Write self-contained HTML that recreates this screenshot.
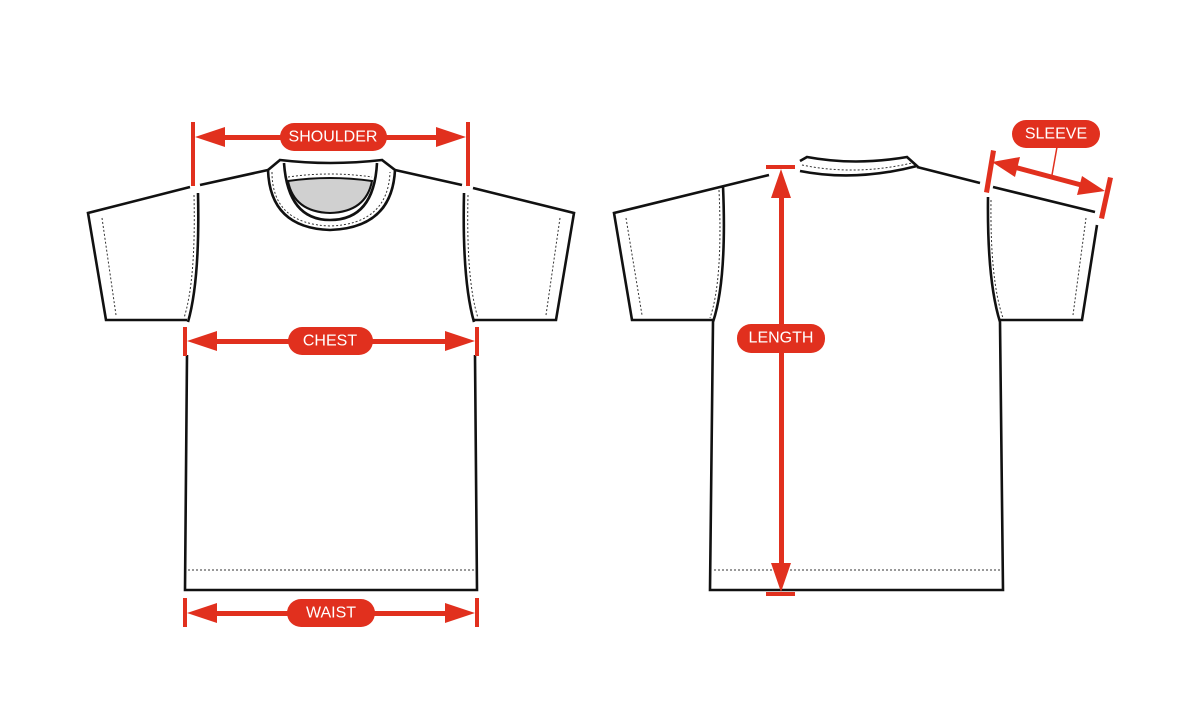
<!DOCTYPE html>
<html><head><style>
html,body{margin:0;padding:0;background:#fff;}
svg{display:block}
text{font-family:"Liberation Sans",sans-serif;font-size:16px;fill:#fff;text-anchor:middle;dominant-baseline:central;}
</style></head><body>
<svg width="1200" height="704" viewBox="0 0 1200 704" xmlns="http://www.w3.org/2000/svg">
<g fill="none" stroke="#111" stroke-width="2.6" stroke-linejoin="miter">
<path d="M268,170 L200,185"/>
<path d="M190,187 L88,213 L106,320 L187,320"/>
<path d="M395,170 L462,185"/>
<path d="M473,188 L574,213 L556,320 L474,320"/>
<path d="M198,193 Q200,280 188,322"/>
<path d="M464,193 Q462,280 474,322"/>
<path d="M187,355 L185,590 L477,590 L475,355"/>
<path d="M268,170 L280,160 Q330,166 382,160 L395,170 Q392,228 330,230 Q270,228 268,170 Z" fill="#fff"/>
<path d="M284,163 Q288,220 330,220 Q374,220 377,163"/>
<path d="M288,181 Q330,175 372,181 Q366,212 330,213 Q294,212 288,181 Z" fill="#d0d0d0" stroke-width="2"/>
<path d="M769,175 L614,213 L632,320 L713,320"/>
<path d="M723,186 Q727,280 713,322 L710,590 L1003,590 L1000,322 Q987,280 988,197"/>
<path d="M999,320 L1082,320 L1097,225"/>
<path d="M993,187 L1095,212"/>
<path d="M917,167 L980,183"/>
<path d="M800,161 L807,157 Q855,166 907,157 L917,166 Q855,182 800,171"/>
</g>
<g fill="none" stroke="#333" stroke-width="1" stroke-dasharray="2,2">
<path d="M102,218 L116,315"/><path d="M560,218 L546,315"/>
<path d="M194,195 Q196,280 184,318"/><path d="M468,195 Q466,280 478,318"/>
<path d="M188,570 L474,570"/>
<path d="M272,172 Q272,224 330,226 Q388,224 390,172"/>
<path d="M288,177 Q330,171 372,177"/>
<path d="M626,218 L642,315"/><path d="M1086,218 L1073,315"/>
<path d="M719,190 Q723,280 710,318"/><path d="M991,200 Q990,280 1003,318"/>
<path d="M714,570 L1000,570"/>
<path d="M802,165 Q855,176 912,163"/>
</g>
<g fill="#e1301e" stroke="none">
<rect x="191" y="122" width="4" height="64"/><rect x="466" y="122" width="4" height="64"/>
<rect x="220" y="135" width="220" height="5"/>
<polygon points="195,137 225,127 225,147"/><polygon points="466,137 436,127 436,147"/>
<rect x="280" y="123" width="107" height="28" rx="14"/>
<rect x="183" y="327" width="4" height="29"/><rect x="475" y="327" width="4" height="29"/>
<rect x="210" y="339" width="240" height="5"/>
<polygon points="187,341 217,331 217,351"/><polygon points="475,341 445,331 445,351"/>
<rect x="288" y="327" width="85" height="28" rx="14"/>
<rect x="183" y="598" width="4" height="29"/><rect x="475" y="598" width="4" height="29"/>
<rect x="210" y="611" width="240" height="5"/>
<polygon points="187,613 217,603 217,623"/><polygon points="475,613 445,603 445,623"/>
<rect x="287" y="599" width="88" height="28" rx="14"/>
<rect x="766" y="165" width="29" height="4"/><rect x="766" y="592" width="29" height="4"/>
<rect x="779" y="190" width="5" height="380"/>
<polygon points="781,169 771,198 791,198"/><polygon points="781,592 771,563 791,563"/>
<rect x="737" y="324" width="88" height="29" rx="14"/>
<polygon points="991,150 996,151 989,193 984,192"/>
<polygon points="1108,177 1113,178 1104,219 1099,218"/>
<line x1="1010" y1="166" x2="1085" y2="186" stroke="#e1301e" stroke-width="5"/>
<polygon points="992,162 1020,157 1015,177"/>
<polygon points="1105,191 1077,195 1082,176"/>
<line x1="1057" y1="147" x2="1052" y2="175" stroke="#e1301e" stroke-width="1.5"/>
<rect x="1012" y="120" width="88" height="28" rx="14"/>
</g>
<text x="333" y="137">SHOULDER</text>
<text x="330" y="341">CHEST</text>
<text x="331" y="613">WAIST</text>
<text x="781" y="338">LENGTH</text>
<text x="1056" y="134">SLEEVE</text>
</svg>
</body></html>
